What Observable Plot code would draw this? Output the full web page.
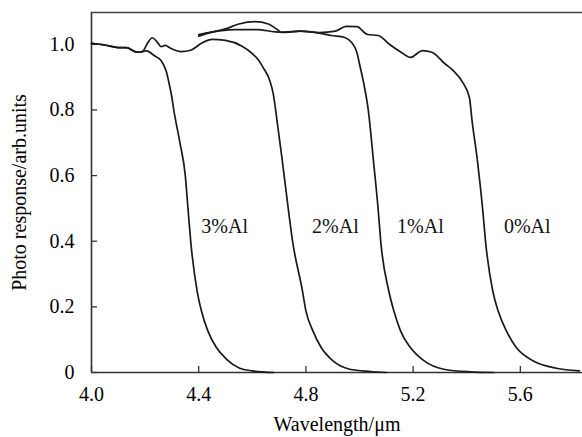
<!DOCTYPE html>
<html>
<head>
<meta charset="utf-8">
<script src="https://cdn.jsdelivr.net/npm/d3@7"></script>
<script src="https://cdn.jsdelivr.net/npm/@observablehq/plot@0.6"></script>
<style>
  html, body { margin: 0; padding: 0; background: #fff; }
  #chart svg { display: block; }
</style>
</head>
<body>
<div id="chart"></div>
<script>
// Series: wavelength (µm) and photo response (arb. units)
const wl3   = [4.00, 4.05, 4.10, 4.13, 4.17, 4.19, 4.205, 4.235, 4.26, 4.278, 4.29, 4.30, 4.307, 4.33, 4.35, 4.36, 4.37, 4.394, 4.41, 4.434, 4.466, 4.503, 4.553, 4.60, 4.68];
const resp3 = [1.003, 0.998, 0.990, 0.990, 0.976, 0.978, 0.980, 0.965, 0.950, 0.920, 0.879, 0.838, 0.800, 0.700, 0.600, 0.500, 0.401, 0.249, 0.188, 0.127, 0.076, 0.041, 0.013, 0.005, 0.0];

const wl2   = [4.00, 4.05, 4.10, 4.13, 4.17, 4.19, 4.21, 4.227, 4.245, 4.26, 4.275, 4.295, 4.335, 4.37, 4.41, 4.45, 4.50, 4.56, 4.60, 4.62, 4.64, 4.665, 4.678, 4.695, 4.712, 4.735, 4.75, 4.787, 4.80, 4.826, 4.857, 4.90, 4.963, 5.04, 5.10];
const resp2 = [1.003, 0.998, 0.990, 0.990, 0.976, 0.978, 1.005, 1.020, 1.007, 0.993, 0.997, 0.988, 0.978, 0.982, 1.003, 1.015, 1.012, 0.995, 0.972, 0.955, 0.930, 0.890, 0.850, 0.750, 0.645, 0.493, 0.401, 0.249, 0.188, 0.127, 0.076, 0.036, 0.010, 0.003, 0.0];

const wl1   = [4.40, 4.44, 4.50, 4.55, 4.61, 4.66, 4.69, 4.71, 4.78, 4.85, 4.895, 4.945, 4.97, 4.99, 5.00, 5.015, 5.033, 5.052, 5.07, 5.079, 5.109, 5.128, 5.153, 5.19, 5.24, 5.314, 5.414, 5.50];
const resp1 = [1.025, 1.035, 1.047, 1.062, 1.069, 1.062, 1.047, 1.036, 1.040, 1.034, 1.027, 1.021, 1.006, 0.976, 0.940, 0.884, 0.798, 0.645, 0.493, 0.401, 0.249, 0.188, 0.127, 0.076, 0.036, 0.010, 0.002, 0.0];

const wl0   = [4.40, 4.47, 4.535, 4.62, 4.685, 4.72, 4.78, 4.85, 4.91, 4.95, 4.99, 5.03, 5.07, 5.11, 5.155, 5.19, 5.235, 5.27, 5.32, 5.35, 5.385, 5.41, 5.42, 5.44, 5.46, 5.47, 5.497, 5.517, 5.548, 5.585, 5.647, 5.734, 5.82];
const resp0 = [1.030, 1.040, 1.045, 1.045, 1.038, 1.037, 1.040, 1.036, 1.040, 1.055, 1.054, 1.030, 1.027, 1.001, 0.976, 0.960, 0.981, 0.976, 0.940, 0.920, 0.884, 0.838, 0.767, 0.645, 0.493, 0.401, 0.249, 0.188, 0.127, 0.076, 0.036, 0.013, 0.005];

const seriesNames = ["3%Al", "2%Al", "1%Al", "0%Al"];
const labelWl   = [4.497, 4.91, 5.227, 5.626];
const labelResp = [0.444, 0.444, 0.444, 0.444];

const xTicks = [4.0, 4.4, 4.8, 5.2, 5.6];
const yTicks = [0, 0.2, 0.4, 0.6, 0.8, 1.0];

const xs = [wl3, wl2, wl1, wl0];
const ys = [resp3, resp2, resp1, resp0];
const rows = seriesNames.flatMap((name, i) => xs[i].map((x, j) => ({series: name, x, y: ys[i][j]})));
const labels = seriesNames.map((name, i) => ({name, x: labelWl[i], y: labelResp[i]}));

const font = '"Liberation Serif", "Times New Roman", serif';

const chart = Plot.plot({
  width: 582,
  height: 437,
  marginLeft: 91,
  marginRight: 0,
  marginTop: 12,
  marginBottom: 65,
  style: {fontFamily: font, fontSize: "20px", color: "#000", background: "#fff"},
  x: {domain: [4.0, 5.832]},
  y: {domain: [0, 1.097]},
  marks: [
    Plot.axisX({ticks: xTicks, tickFormat: d => d.toFixed(1), tickSize: 0, tickPadding: 14,
      label: "Wavelength/μm", labelAnchor: "center", labelArrow: "none", labelOffset: 58, fontSize: 20}),
    Plot.axisY({ticks: yTicks, tickFormat: d => d === 0 ? "0" : d.toFixed(1), tickSize: 0, tickPadding: 17,
      label: "Photo response/arb.units", labelAnchor: "center", labelArrow: "none", labelOffset: 80, fontSize: 20}),
    // inward tick marks
    Plot.ruleX(xTicks, {x: d => d, y1: 0, y2: 0, insetTop: -6, stroke: "#333", strokeWidth: 1.3}),
    Plot.ruleY(yTicks, {y: d => d, x1: 4.0, x2: 4.0, insetRight: -6, stroke: "#333", strokeWidth: 1.3}),
    Plot.ruleY([0], {stroke: "#333", strokeWidth: 1.6}),
    Plot.ruleX([4.0], {stroke: "#333", strokeWidth: 1.6}),
    Plot.frame({anchor: "top", stroke: "#444", strokeWidth: 1.6}),
    Plot.line(rows, {x: "x", y: "y", z: "series", stroke: "#1a1a1a", strokeWidth: 1.7, curve: "monotone-x"}),
    Plot.text(labels, {x: "x", y: "y", text: "name", fontSize: 20, fill: "#111", textAnchor: "middle"})
  ]
});
document.getElementById("chart").appendChild(chart);
</script>
</body>
</html>
